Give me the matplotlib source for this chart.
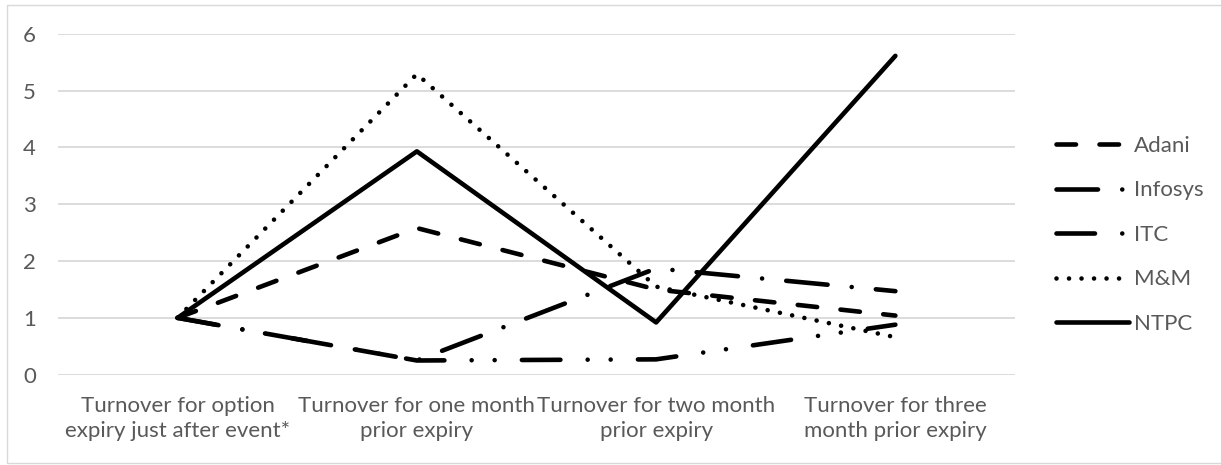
import matplotlib
matplotlib.use("Agg")
import matplotlib.pyplot as plt
from matplotlib.patches import Rectangle

# ---- data ----
categories = [
    "Turnover for option\nexpiry just after event*",
    "Turnover for one month\nprior expiry",
    "Turnover for two month\nprior expiry",
    "Turnover for three\nmonth prior expiry",
]
adani = [1.0, 2.58, 1.50, 1.04]
infosys = [1.0, 0.25, 1.87, 1.47]
itc = [1.0, 0.25, 0.27, 0.88]
mm = [1.0, 5.29, 1.55, 0.66]
ntpc = [1.0, 3.93, 0.92, 5.61]
y_ticks = [0, 1, 2, 3, 4, 5, 6]

# ---- styling ----
DPI = 100
PX = 72.0 / DPI          # one pixel in points
LW = 4.6 * PX            # line width
TEXT = "#595959"
GRID = "#d9d9d9"
FONT = ["Lato", "DejaVu Sans"]
FS = 16

plt.rcParams["font.family"] = FONT
plt.rcParams["lines.scale_dashes"] = False

def px(*vals):
    return tuple(v * PX for v in vals)

styles = {
    "Adani": dict(dashes=px(19.5, 23.5)),
    "Infosys": dict(dashes=px(41.5, 24.25, 0.01, 24.25)),
    "ITC": dict(dashes=px(38.5, 27.25, 0.01, 23, 0.01, 27.25)),
    "M&M": dict(dashes=px(0.01, 12.5)),
    "NTPC": dict(linestyle="-"),
}
series = [("Adani", adani), ("Infosys", infosys), ("ITC", itc),
          ("M&M", mm), ("NTPC", ntpc)]

W, H = 1221, 465
fig = plt.figure(figsize=(W / DPI, H / DPI), dpi=DPI)
fig.patch.set_facecolor("white")

# chart border
fig.add_artist(Rectangle((7 / W, 1 - 463 / H), (W + 10 - 7) / W, (463 - 5) / H,
                         transform=fig.transFigure, fill=False,
                         edgecolor=GRID, linewidth=1.0))

ax = fig.add_axes([58 / W, 1 - 374.7 / H, 957 / W, (374.7 - 33.7) / H])
x = list(range(len(categories)))
for name, vals in series:
    st = styles[name]
    ax.plot(x, vals, color="black", linewidth=LW, label=name,
            dash_capstyle="round", solid_capstyle="round",
            solid_joinstyle="round", dash_joinstyle="round", **st)

ax.set_xlim(-0.5, len(categories) - 0.5)
ax.set_ylim(0, 6)
ax.set_yticks(y_ticks)
ax.set_xticks(x)
ax.set_xticklabels(categories, linespacing=1.32)
ax.yaxis.grid(True, color=GRID, linewidth=1.3)
ax.set_axisbelow(True)
for sp in ax.spines.values():
    sp.set_visible(False)
ax.tick_params(axis="both", length=0, colors=TEXT, labelsize=FS)
ax.tick_params(axis="y", pad=16)
ax.tick_params(axis="x", pad=15)

leg = ax.legend(loc="upper left", bbox_to_anchor=(1056 / W, 1 - 136 / H),
                bbox_transform=fig.transFigure, frameon=False,
                fontsize=FS, handlelength=73 / (FS / PX),
                handletextpad=5 / (FS / PX), labelspacing=1.1,
                borderpad=0, borderaxespad=0)
for t in leg.get_texts():
    t.set_color(TEXT)

fig.savefig("out.png", dpi=DPI, facecolor="white")
